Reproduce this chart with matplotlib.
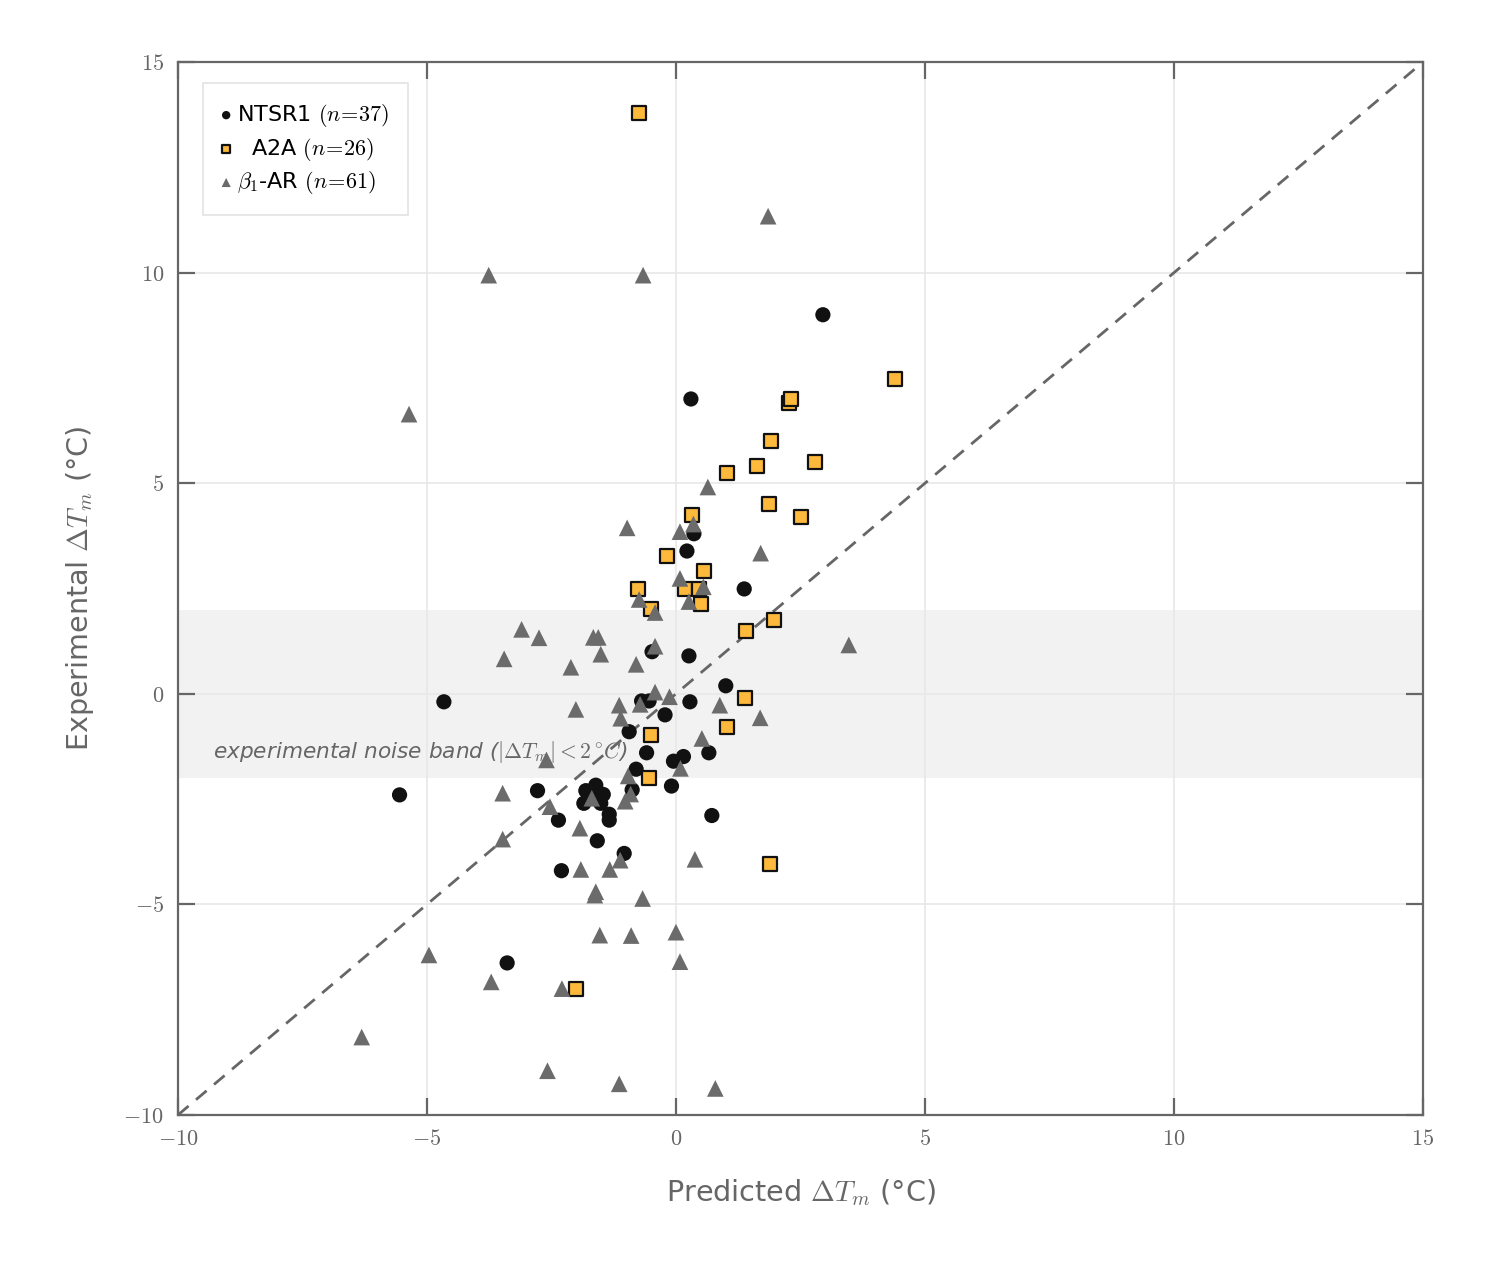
import matplotlib
matplotlib.use("Agg")
import matplotlib.pyplot as plt
from matplotlib.ticker import FuncFormatter
import numpy as np

plt.rcParams['mathtext.fontset'] = 'cm'
plt.rcParams['font.family'] = ['DejaVu Sans']

# NTSR1 (circles)
ntsr1_x = [2.95, 0.30, 0.36, 0.22, 1.37, -0.48, 0.26, -4.66, 1.00, 0.28, -0.69, -0.54,
           -0.22, -0.94, -0.59, -0.05, 0.15, 0.66, -0.80, -0.09, -0.88, -2.78, -5.55,
           -1.61, -1.81, -1.46, -1.85, -1.51, -1.34, -1.34, -2.36, 0.72, -1.58, -1.04,
           -2.30, -3.39, -1.55]
ntsr1_y = [9.00, 7.00, 3.80, 3.39, 2.49, 1.00, 0.90, -0.19, 0.19, -0.19, -0.17, -0.17,
           -0.50, -0.90, -1.40, -1.60, -1.49, -1.40, -1.79, -2.19, -2.28, -2.30, -2.40,
           -2.17, -2.30, -2.39, -2.60, -2.60, -2.86, -3.00, -3.00, -2.89, -3.49, -3.79,
           -4.20, -6.39, -2.45]

# A2A (squares)
a2a_x = [-0.74, 4.40, 2.26, 2.30, 1.91, 1.02, 1.62, 2.80, 1.87, 2.51, 0.33, -0.19, 0.56,
         -0.76, 0.19, 0.46, 0.50, -0.50, 1.40, 1.96, 1.39, 1.02, -0.50, -0.54, 1.89, -2.01]
a2a_y = [13.80, 7.47, 6.90, 7.00, 6.01, 5.25, 5.41, 5.50, 4.51, 4.20, 4.25, 3.26, 2.92,
         2.50, 2.50, 2.50, 2.13, 2.01, 1.50, 1.75, -0.09, -0.79, -0.99, -1.99, -4.03, -7.00]

# beta1-AR (triangles)
b1ar_x = [1.85, -3.76, -0.66, -5.36, 0.64, -0.98, 0.08, 0.35, 1.70, 0.08, 0.55, 0.26,
          -0.74, -0.42, 3.47, -3.10, -2.75, -1.66, -1.56, -3.45, -1.51, -2.11, -0.80,
          -0.42, -0.42, -0.13, -0.72, -1.14, -2.01, -1.11, 0.88, 1.69, 0.52, -2.60, 0.09,
          -0.96, -3.48, -1.69, -0.91, -1.02, -2.53, -1.93, -3.48, -1.12, 0.38, -1.91,
          -1.33, -1.61, -1.63, -0.67, -1.53, -0.90, 0.00, 0.08, -2.29, -4.96, -3.71,
          -6.31, -2.58, -1.14, 0.79]
b1ar_y = [11.34, 9.94, 9.94, 6.64, 4.91, 3.94, 3.85, 4.03, 3.34, 2.74, 2.54, 2.19, 2.24,
          1.93, 1.16, 1.53, 1.33, 1.34, 1.34, 0.83, 0.94, 0.63, 0.70, 1.13, 0.04, -0.07,
          -0.25, -0.27, -0.37, -0.58, -0.27, -0.57, -1.06, -1.57, -1.77, -1.95, -2.36,
          -2.48, -2.38, -2.55, -2.68, -3.19, -3.45, -3.95, -3.93, -4.17, -4.17, -4.70,
          -4.78, -4.86, -5.73, -5.74, -5.66, -6.36, -7.00, -6.20, -6.84, -8.15, -8.95,
          -9.26, -9.37]

labels = [r"NTSR1 $(n\!=\!37)$", r"  A2A $(n\!=\!26)$", r"$\beta_{\mathsf{1}}$-AR $(n\!=\!61)$"]
xlim = (-10, 15)
ylim = (-10, 15)
ticks = [-10, -5, 0, 5, 10, 15]

fig = plt.figure(figsize=(7.47, 6.305), dpi=200)
ax = fig.add_axes([0.1191, 0.1158, 0.8334, 0.835])

gray = '#666666'
ax.axhspan(-2, 2, color='#f2f2f2', zorder=0, lw=0)
ax.plot(xlim, ylim, ls=(0, (5, 3.5)), color=gray, lw=1.0, zorder=1)

ax.scatter(ntsr1_x, ntsr1_y, s=30, marker='o', color='#111111', edgecolors='none',
           zorder=3, label=labels[0])
ax.scatter(a2a_x, a2a_y, s=28, marker='s', facecolor='#FDB93C', edgecolors='#111111',
           linewidths=0.8, zorder=4, label=labels[1])
ax.scatter(b1ar_x, b1ar_y, s=36, marker='^', color='#6b6b6b', edgecolors='none',
           zorder=5, label=labels[2])

ax.text(-9.3, -1.38, r"experimental noise band ($|\Delta T_m| < 2\,^{\circ}C$)",
        fontsize=7.8, style='italic', color=gray, va='center', ha='left', zorder=6)

ax.set_xlim(*xlim)
ax.set_ylim(*ylim)
ax.set_xticks(ticks)
ax.set_yticks(ticks)
fmt = FuncFormatter(lambda v, p: r"$%d$" % v)
ax.xaxis.set_major_formatter(fmt)
ax.yaxis.set_major_formatter(fmt)
ax.grid(True, color='#e8e8e8', lw=0.6, zorder=0)
ax.set_axisbelow(True)
ax.tick_params(direction='in', length=6, width=0.8, color=gray, labelcolor=gray,
               labelsize=8, top=True, right=True, pad=5)
for s in ax.spines.values():
    s.set_color(gray)
    s.set_linewidth(0.8)

ax.set_xlabel(r"Predicted $\Delta T_m$ (°C)", fontsize=10.3, color=gray, labelpad=10)
ax.set_ylabel(r"Experimental $\Delta T_m$ (°C)", fontsize=10.3, color=gray, labelpad=10)

leg = ax.legend(loc='upper left', bbox_to_anchor=(0.02, 0.98), borderaxespad=0,
                fontsize=8, markerscale=0.55, handletextpad=0.3, borderpad=0.85,
                labelspacing=0.3, fancybox=False, framealpha=1, edgecolor='#e3e3e3',
                handlelength=0.4)
leg.get_frame().set_linewidth(0.6)

fig.savefig("out.png", dpi=200)
